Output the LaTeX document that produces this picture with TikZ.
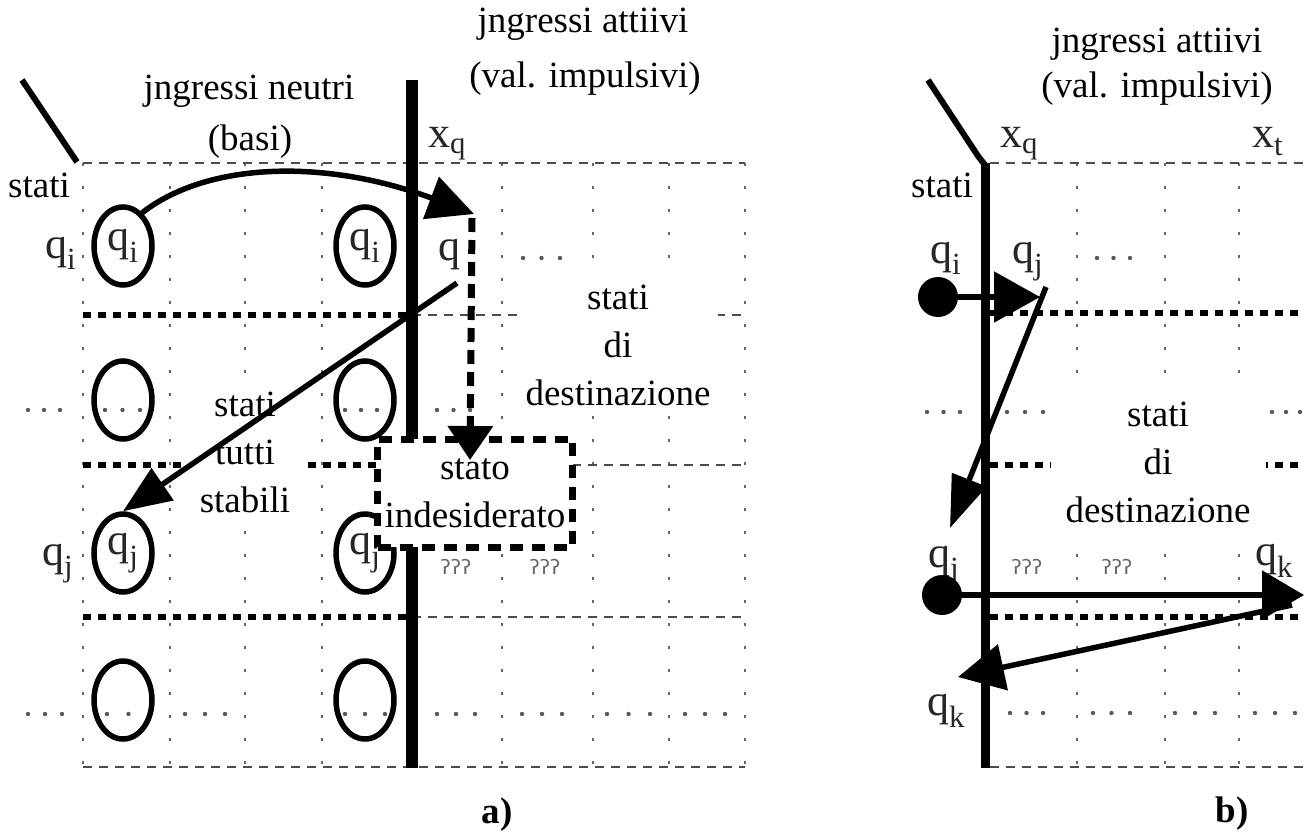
\documentclass[tikz,border=0pt]{standalone}
\usepackage{fontspec}
\setmainfont{Liberation Serif}
\newfontfamily\dvs{DejaVu Sans}
\usetikzlibrary{arrows.meta,shapes.geometric}
\newcommand{\tdots}[3]{\foreach \k in {0,1,2}{\fill[black!65] ({#1+(#2-#1)*\k/2},#3) circle (2.2pt);}}
\tikzset{
 lbl/.style={font=\fontsize{37}{48}\selectfont, inner sep=0pt},
 wlbl/.style={font=\fontsize{37}{48}\selectfont, align=center, fill=white, inner xsep=0pt, inner ysep=9pt},
 qlbl/.style={font=\fontsize{44}{50}\selectfont, inner sep=0pt, anchor=base west, text=black!85},
 ell/.style={ellipse, draw, line width=5.5pt, minimum width=58pt, minimum height=78pt, inner sep=0pt, font=\fontsize{44}{50}\selectfont, text=black!85},
 dotn/.style={circle, fill=black, minimum size=40pt, inner sep=0pt},
 gridv/.style={black!60, line width=2.5pt, dash pattern=on 2.5pt off 20.5pt},
 thind/.style={black!70, line width=2.5pt, dash pattern=on 9pt off 7pt},
 thickd/.style={black, line width=5.5pt, dash pattern=on 8pt off 7pt},
 arr/.style={line width=5.5pt, -{Triangle[length=48pt,width=38pt]}},
 qm/.style={font=\dvs\fontsize{20}{20}\selectfont, text=black!60, inner sep=0pt},
}
\begin{document}
\begin{tikzpicture}[x=1pt,y=-1pt]
\useasboundingbox (0,0) rectangle (1305,832);

% ---------- panel a: grid ----------
\foreach \x in {83,170,245,322,502,593,669,745} \draw[gridv] (\x,163) -- (\x,767);
\draw[thind] (83,163) -- (745,163);
\draw[thind] (83,767) -- (745,767);
\draw[thickd] (83,315) -- (412,315); \draw[thind] (412,315) -- (745,315);
\draw[thickd] (83,465) -- (412,465); \draw[thind] (412,465) -- (745,465);
\draw[thickd] (83,617) -- (412,617); \draw[thind] (412,617) -- (745,617);
\tdots{523}{560}{258}
\tdots{28}{60}{410} \tdots{105}{140}{410} \tdots{345}{377}{410} \tdots{437}{470}{410}
\tdots{28}{62}{714} \tdots{107}{150}{714} \tdots{185}{225}{714} \tdots{345}{385}{714}
\tdots{437}{475}{714} \tdots{522}{562}{714} \tdots{607}{650}{714} \tdots{685}{725}{714}
\node[qm] (qa1) at (456,567) {ʔʔʔ};
\node[qm] (qa2) at (545,567) {ʔʔʔ};

% slash and axis
\draw[line width=6pt] (22,80) -- (77,162);
\draw[line width=12pt] (412,80) -- (412,768);

% labels
\node[lbl, anchor=base] (statiA) at (39,197) {stati};
\node[lbl, anchor=base] (neu1) at (249,100) {jngressi neutri};
\node[lbl, anchor=base] (neu2) at (250,150) {(basi)};
\node[lbl, anchor=base] (att1) at (583,33) {jngressi attiivi};
\node[lbl, anchor=base] (att2) at (585,88) {(val. impulsivi)};
\node[qlbl] (xqA) at (428,147) {x\textsubscript{q}};
\node[qlbl] (qiA) at (45,258) {q\textsubscript{i}};
\node[qlbl] (qjA) at (42,565) {q\textsubscript{j}};
\node[qlbl] (qA) at (438,260) {q};

% circles
\node[ell] (c11) at (123,246) {q\textsubscript{i}};
\node[ell] (c12) at (365,246) {q\textsubscript{i}};
\node[ell] (c21) at (123,400) {};
\node[ell] (c22) at (365,400) {};
\node[ell] (c31) at (123,553) {q\textsubscript{j}};
\node[ell] (c32) at (365,553) {q\textsubscript{j}};
\node[ell] (c41) at (123,700) {};
\node[ell] (c42) at (365,700) {};

% white text blocks
\node[wlbl, minimum width=120pt] (tutti) at (245,452) {stati\\tutti\\stabili};
\node[wlbl, minimum width=200pt] (destA) at (618,345) {stati\\di\\destinazione};
\node[draw, fill=white, line width=7pt, dash pattern=on 13pt off 9pt, minimum width=195pt, minimum height=108pt, align=center, font=\fontsize{37}{48}\selectfont, inner sep=0pt] (box) at (475,493) {stato\\indesiderato};

% arrows
\coordinate (tipA) at (474,214);
\coordinate (dA) at (472,218);
\coordinate (dB) at (470,460);
\coordinate (qs) at (457,283);
\draw[line width=5.5pt, -{Triangle[length=46pt,width=44pt]}] (c11.60) .. controls (210,160) and (330,160) .. (tipA);
\draw[line width=7pt, dash pattern=on 14pt off 8pt, -{Triangle[length=34pt,width=44pt]}] (dA) -- (dB);
\draw[arr] (qs) -- (c31.north);

\node[lbl, anchor=base, font=\fontsize{37}{48}\selectfont\bfseries] (labA) at (497,823) {a)};

% ---------- panel b ----------
\foreach \x in {1077,1165,1239} \draw[gridv] (\x,163) -- (\x,767);
\draw[thind] (990,163) -- (1305,163);
\draw[thind] (990,767) -- (1305,767);
\draw[thickd] (990,313) -- (1305,313);
\draw[thickd] (990,465) -- (1305,465);
\draw[thickd] (990,617) -- (1305,617);
\tdots{1097}{1130}{258}
\tdots{927}{960}{412} \tdots{1007}{1043}{412} \tdots{1272}{1300}{412}
\tdots{1010}{1043}{713} \tdots{1093}{1130}{713} \tdots{1175}{1215}{713} \tdots{1255}{1295}{713}
\node[qm] (qb1) at (1027,567) {ʔʔʔ};
\node[qm] (qb2) at (1117,567) {ʔʔʔ};

\draw[line width=6pt, line join=round] (928,80) -- (978,156) -- (985,165);
\draw[line width=9pt] (985,163) -- (985,768);

\node[lbl, anchor=base] (att1b) at (1157,53) {jngressi attiivi};
\node[lbl, anchor=base] (att2b) at (1157,98) {(val. impulsivi)};
\node[lbl, anchor=base] (statiB) at (942,197) {stati};
\node[qlbl] (xqB) at (1000,147) {x\textsubscript{q}};
\node[qlbl] (xtB) at (1252,147) {x\textsubscript{t}};
\node[qlbl] (qiB) at (930,263) {q\textsubscript{i}};
\node[qlbl] (qjB) at (1012,263) {q\textsubscript{j}};
\node[qlbl] (qjB2) at (928,567) {q\textsubscript{j}};
\node[qlbl] (qkB) at (1255,565) {q\textsubscript{k}};
\node[qlbl] (qkB2) at (927,715) {q\textsubscript{k}};

\node[wlbl, minimum width=215pt, inner ysep=14pt] (destB) at (1158,462) {stati\\di\\destinazione};

\node[dotn] (dI) at (938,297) {};
\node[dotn] (dJ) at (942,595) {};
\coordinate (tI) at (1040,297);
\coordinate (sI) at (1046,287);
\coordinate (tJ) at (950,528);
\coordinate (tK) at (1304,595);
\coordinate (sK) at (1292,605);
\coordinate (tL) at (958,677);
\draw[line width=5.5pt, -{Triangle[length=46pt,width=50pt]}] (dI) -- (tI);
\draw[line width=5.5pt, -{Triangle[length=52pt,width=36pt]}] (sI) -- (tJ);
\draw[line width=5.5pt, -{Triangle[length=42pt,width=48pt]}] (dJ) -- (tK);
\draw[line width=5.5pt, -{Triangle[length=46pt,width=46pt]}] (sK) -- (tL);

\node[lbl, anchor=base, font=\fontsize{37}{48}\selectfont\bfseries] (labB) at (1232,822) {b)};
\end{tikzpicture}
\end{document}
